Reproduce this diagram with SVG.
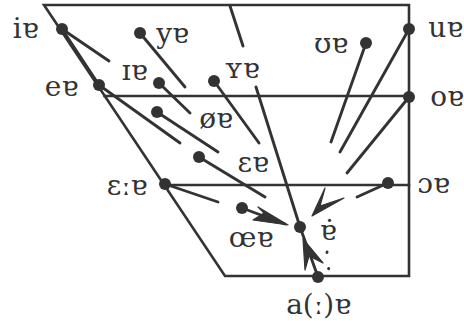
<svg xmlns="http://www.w3.org/2000/svg" width="464" height="321" viewBox="0 0 464 321">
<style>
.frame{fill:none;stroke:#333;stroke-width:2.6;stroke-linecap:square}
.c{fill:none;stroke:#333;stroke-width:2.9;stroke-linecap:round}
.dot{fill:#333}
.lbl{font-family:"DejaVu Serif","Liberation Serif",serif;font-size:28px;fill:#333;text-anchor:middle}
.ah{fill:#333;stroke:#333;stroke-width:1.2;stroke-linejoin:round}
</style>
<rect width="464" height="321" fill="#fff"/>
<g id="frame">
<path class="frame" d="M44,5 L409,5 L409,276 L225,276 Z"/>
<line class="frame" x1="104.5" y1="96" x2="409" y2="96"/>
<line class="frame" x1="164" y1="185" x2="409" y2="185"/>
</g>
<g id="connectors">
<line class="c" x1="62" y1="29" x2="99" y2="85" stroke-width="3.2"/>
<line class="c" x1="62" y1="29" x2="109" y2="61"/>
<line class="c" x1="140" y1="33" x2="185" y2="87"/>
<line class="c" x1="159" y1="83" x2="190" y2="113"/>
<line class="c" x1="99" y1="85" x2="180" y2="143"/>
<line class="c" x1="214" y1="81" x2="259" y2="143"/>
<line class="c" x1="157" y1="112" x2="218" y2="152"/>
<line class="c" x1="199" y1="157" x2="265" y2="197"/>
<line class="c" x1="230" y1="6" x2="243" y2="46"/>
<line class="c" x1="256" y1="87" x2="300" y2="227"/>
<line class="c" x1="165" y1="184" x2="218" y2="202"/>
<line class="c" x1="366" y1="43" x2="331" y2="142"/>
<line class="c" x1="409" y1="29" x2="340" y2="152"/>
<line class="c" x1="409" y1="97" x2="347" y2="173"/>
<line class="c" x1="388" y1="183" x2="357" y2="197"/>
<line class="c" x1="242" y1="208" x2="285" y2="224"/>
<path class="ah" d="M288,225 L258,207 L264,213 L253,220 Z"/>
<path class="ah" d="M312,216 L325,188 L320,206 L344,198 Z"/>
<line class="c" x1="318" y1="277" x2="300" y2="227"/>
<path class="ah" d="M303,239 L305,270 L309,256 L323,263 Z"/>
<line class="c" x1="327" y1="252" x2="329" y2="272" stroke-width="1.8" stroke-dasharray="0.5 16"/>
</g>
<g id="n-ie"><circle class="dot" cx="62" cy="29" r="6"/><text class="lbl" x="25.5" y="38">iɐ</text></g>
<g id="n-ye"><circle class="dot" cx="140" cy="33" r="6"/><text class="lbl" x="172.5" y="43">yɐ</text></g>
<g id="n-Ie"><circle class="dot" cx="159" cy="83" r="6"/><text class="lbl" x="134.5" y="80">ɪɐ</text></g>
<g id="n-YE"><circle class="dot" cx="214" cy="81" r="6"/><text class="lbl" x="242" y="78">ʏɐ</text></g>
<g id="n-ee"><circle class="dot" cx="99" cy="85" r="6"/><text class="lbl" x="61.5" y="96">eɐ</text></g>
<g id="n-oe"><circle class="dot" cx="157" cy="112" r="6"/><text class="lbl" x="216" y="128">øɐ</text></g>
<g id="n-Ee"><circle class="dot" cx="199" cy="157" r="6"/><text class="lbl" x="253" y="172">ɛɐ</text></g>
<g id="n-Eee"><circle class="dot" cx="165" cy="184" r="6"/><text class="lbl" x="127" y="195">ɛːɐ</text></g>
<g id="n-OEe"><circle class="dot" cx="242" cy="208" r="6"/><text class="lbl" x="251" y="247">œɐ</text></g>
<g id="n-Ue"><circle class="dot" cx="366" cy="43" r="6"/><text class="lbl" x="331" y="53">ʊɐ</text></g>
<g id="n-ue"><circle class="dot" cx="409" cy="29" r="6"/><text class="lbl" x="445.5" y="37">uɐ</text></g>
<g id="n-o"><circle class="dot" cx="409" cy="97" r="6"/><text class="lbl" x="447" y="106">oɐ</text></g>
<g id="n-Oe"><circle class="dot" cx="388" cy="183" r="6"/><text class="lbl" x="433.5" y="193">ɔɐ</text></g>
<g id="n-e"><circle class="dot" cx="300" cy="227" r="6"/><text class="lbl" x="328" y="240">ɐ̇</text></g>
<g id="n-a"><circle class="dot" cx="318" cy="277" r="6"/><text class="lbl" x="318.5" y="314">a(ː)ɐ</text></g>
</svg>
